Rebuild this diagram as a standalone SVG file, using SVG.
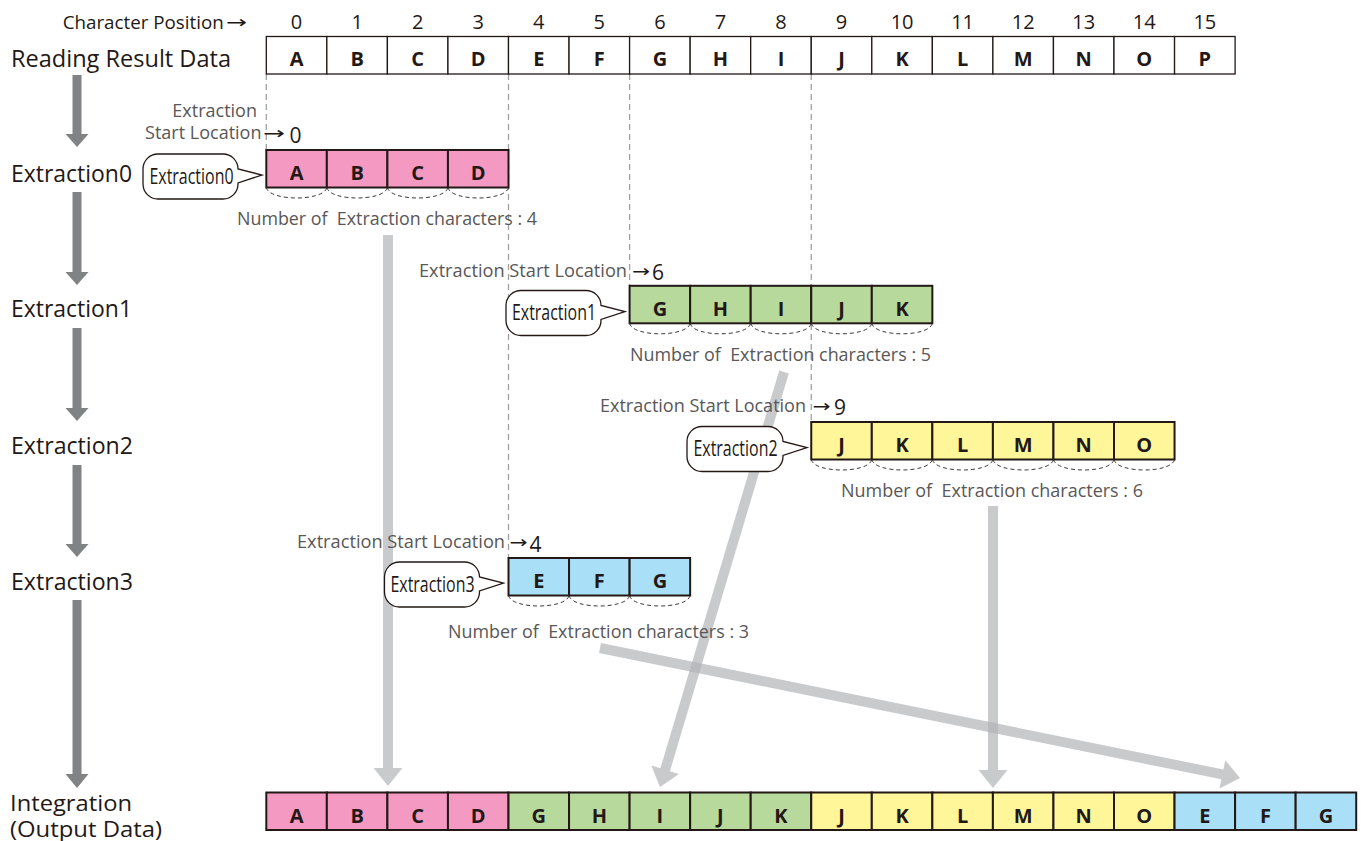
<svg xmlns="http://www.w3.org/2000/svg" width="1362" height="841" viewBox="0 0 1362 841">
<style>
text{font-family:"Open Sans","Liberation Sans",sans-serif;}
.lbl{font-size:23px;fill:#231815;}
.num{font-size:20px;fill:#231815;text-anchor:middle;}
.cl{font-size:20px;font-weight:bold;fill:#231815;text-anchor:middle;}
.gr{font-size:18px;fill:#595757;}
.dig{font-size:21px;fill:#231815;}
.arr{font-family:"DejaVu Sans",sans-serif;font-size:17px;fill:#231815;}
.co{font-size:21px;fill:#231815;text-anchor:middle;}
.top rect{fill:#fff;stroke:#231815;stroke-width:1.3;}
.cell{stroke:#231815;stroke-width:2;}
.pk{fill:#f499c1;}
.gn{fill:#b7da9c;}
.yl{fill:#fff69a;}
.bl{fill:#a9dff7;}
.guide{stroke:#9fa0a0;stroke-width:1.3;stroke-dasharray:6 4;fill:none;}
.brace{stroke:#3e3a39;stroke-width:1;stroke-dasharray:4 3;fill:none;}
.callout{fill:#fff;stroke:#231815;stroke-width:1.3;}
.darr{fill:#808285;}
.larr{fill:#b1b3b6;opacity:0.7;}
</style>

<!-- guide lines -->
<g id="guides">
<line class="guide" x1="266.3" y1="74" x2="266.3" y2="150"/>
<line class="guide" x1="508.5" y1="74" x2="508.5" y2="558"/>
<line class="guide" x1="629.6" y1="74" x2="629.6" y2="286"/>
<line class="guide" x1="811.25" y1="74" x2="811.25" y2="422"/>
</g>

<!-- connectors -->
<g id="connectors">
<polygon class="darr" points="72.5,75 81.5,75 81.5,134 88.5,134 77,147 65.5,134 72.5,134"/>
<polygon class="darr" points="72.5,192 81.5,192 81.5,272 88.5,272 77,285 65.5,272 72.5,272"/>
<polygon class="darr" points="72.5,328 81.5,328 81.5,408 88.5,408 77,421 65.5,408 72.5,408"/>
<polygon class="darr" points="72.5,465 81.5,465 81.5,544 88.5,544 77,557 65.5,544 72.5,544"/>
<polygon class="darr" points="72.5,600 81.5,600 81.5,774 88.5,774 77,788 65.5,774 72.5,774"/>
<polygon class="larr" points="383,235 393,235 393,768 402.5,768 388,786 373.5,768 383,768"/>
<polygon class="larr" points="788.8,373.4 669.9,771.2 679,773.9 660,787 651.3,765.6 660.4,768.3 779.2,370.6"/>
<polygon class="larr" points="988,506 998,506 998,770 1007.5,770 993,788 978.5,770 988,770"/>
<polygon class="larr" points="601,643.1 1223.4,769.5 1225.3,760.2 1240,778 1219.5,788.6 1221.4,779.3 599,652.9"/>
</g>

<!-- header -->
<g id="header">
<text class="gr" x="62.7" y="29" textLength="161" lengthAdjust="spacingAndGlyphs" style="font-size:19px;fill:#231815">Character Position</text>
<text class="arr" x="226" y="28" textLength="21" lengthAdjust="spacingAndGlyphs">→</text>
<text class="num" x="296.58" y="29">0</text>
<text class="num" x="357.13" y="29">1</text>
<text class="num" x="417.68" y="29">2</text>
<text class="num" x="478.23" y="29">3</text>
<text class="num" x="538.78" y="29">4</text>
<text class="num" x="599.33" y="29">5</text>
<text class="num" x="659.88" y="29">6</text>
<text class="num" x="720.43" y="29">7</text>
<text class="num" x="780.98" y="29">8</text>
<text class="num" x="841.53" y="29">9</text>
<text class="num" x="902.08" y="29">10</text>
<text class="num" x="962.63" y="29">11</text>
<text class="num" x="1023.18" y="29">12</text>
<text class="num" x="1083.73" y="29">13</text>
<text class="num" x="1144.28" y="29">14</text>
<text class="num" x="1204.83" y="29">15</text>
</g>

<!-- reading result data -->
<g id="reading">
<text class="lbl" x="11" y="66.5" textLength="220" lengthAdjust="spacingAndGlyphs">Reading Result Data</text>
<g class="top">
<rect x="266.3" y="36.5" width="60.55" height="37.5"/>
<rect x="326.85" y="36.5" width="60.55" height="37.5"/>
<rect x="387.4" y="36.5" width="60.55" height="37.5"/>
<rect x="447.95" y="36.5" width="60.55" height="37.5"/>
<rect x="508.5" y="36.5" width="60.55" height="37.5"/>
<rect x="569.05" y="36.5" width="60.55" height="37.5"/>
<rect x="629.6" y="36.5" width="60.55" height="37.5"/>
<rect x="690.15" y="36.5" width="60.55" height="37.5"/>
<rect x="750.7" y="36.5" width="60.55" height="37.5"/>
<rect x="811.25" y="36.5" width="60.55" height="37.5"/>
<rect x="871.8" y="36.5" width="60.55" height="37.5"/>
<rect x="932.35" y="36.5" width="60.55" height="37.5"/>
<rect x="992.9" y="36.5" width="60.55" height="37.5"/>
<rect x="1053.45" y="36.5" width="60.55" height="37.5"/>
<rect x="1114" y="36.5" width="60.55" height="37.5"/>
<rect x="1174.55" y="36.5" width="60.55" height="37.5"/>
</g>
<text class="cl" x="296.58" y="66">A</text>
<text class="cl" x="357.13" y="66">B</text>
<text class="cl" x="417.68" y="66">C</text>
<text class="cl" x="478.23" y="66">D</text>
<text class="cl" x="538.78" y="66">E</text>
<text class="cl" x="599.33" y="66">F</text>
<text class="cl" x="659.88" y="66">G</text>
<text class="cl" x="720.43" y="66">H</text>
<text class="cl" x="780.98" y="66">I</text>
<text class="cl" x="841.53" y="66">J</text>
<text class="cl" x="902.08" y="66">K</text>
<text class="cl" x="962.63" y="66">L</text>
<text class="cl" x="1023.18" y="66">M</text>
<text class="cl" x="1083.73" y="66">N</text>
<text class="cl" x="1144.28" y="66">O</text>
<text class="cl" x="1204.83" y="66">P</text>
</g>

<!-- Extraction0 -->
<g id="extraction0">
<text class="lbl" x="11" y="181.5" textLength="121" lengthAdjust="spacingAndGlyphs">Extraction0</text>
<text class="gr" x="257" y="116.5" text-anchor="end">Extraction</text>
<text class="gr" x="261.5" y="139.3" text-anchor="end">Start Location</text>
<text class="arr" x="263" y="139" textLength="22" lengthAdjust="spacingAndGlyphs">→</text>
<text class="dig" x="289.5" y="143">0</text>
<path class="callout" d="M158,154 H223 A15 15 0 0 1 238,169 L262,175 L238,183 V184 A15 15 0 0 1 223,199 H158 A15 15 0 0 1 143,184 V169 A15 15 0 0 1 158,154 Z"/>
<text class="co" x="191.5" y="183.5" textLength="84" lengthAdjust="spacingAndGlyphs">Extraction0</text>
<rect class="cell pk" x="266.3" y="150" width="60.55" height="37.5"/>
<rect class="cell pk" x="326.85" y="150" width="60.55" height="37.5"/>
<rect class="cell pk" x="387.4" y="150" width="60.55" height="37.5"/>
<rect class="cell pk" x="447.95" y="150" width="60.55" height="37.5"/>
<text class="cl" x="296.58" y="180">A</text>
<text class="cl" x="357.13" y="180">B</text>
<text class="cl" x="417.68" y="180">C</text>
<text class="cl" x="478.23" y="180">D</text>
<path class="brace" d="M266.3 187.5 C269.3 201.5 323.85 201.5 326.85 187.5 M326.85 187.5 C329.85 201.5 384.4 201.5 387.4 187.5 M387.4 187.5 C390.4 201.5 444.95 201.5 447.95 187.5 M447.95 187.5 C450.95 201.5 505.5 201.5 508.5 187.5"/>
<text class="gr" x="237" y="225" textLength="300" lengthAdjust="spacingAndGlyphs" xml:space="preserve">Number of  Extraction characters : 4</text>
</g>

<!-- Extraction1 -->
<g id="extraction1">
<text class="lbl" x="11" y="317" textLength="121" lengthAdjust="spacingAndGlyphs">Extraction1</text>
<text class="gr" x="419" y="276.5" textLength="208" lengthAdjust="spacingAndGlyphs">Extraction Start Location</text>
<text class="arr" x="632" y="276.5" textLength="18" lengthAdjust="spacingAndGlyphs">→</text>
<text class="dig" x="652" y="280">6</text>
<path class="callout" d="M521,290.5 H586 A15 15 0 0 1 601,305.5 L625,311.5 L601,319.5 V320.5 A15 15 0 0 1 586,335.5 H521 A15 15 0 0 1 506,320.5 V305.5 A15 15 0 0 1 521,290.5 Z"/>
<text class="co" x="554" y="320" textLength="84" lengthAdjust="spacingAndGlyphs">Extraction1</text>
<rect class="cell gn" x="629.6" y="285.8" width="60.55" height="37.5"/>
<rect class="cell gn" x="690.15" y="285.8" width="60.55" height="37.5"/>
<rect class="cell gn" x="750.7" y="285.8" width="60.55" height="37.5"/>
<rect class="cell gn" x="811.25" y="285.8" width="60.55" height="37.5"/>
<rect class="cell gn" x="871.8" y="285.8" width="60.55" height="37.5"/>
<text class="cl" x="659.88" y="316">G</text>
<text class="cl" x="720.43" y="316">H</text>
<text class="cl" x="780.98" y="316">I</text>
<text class="cl" x="841.53" y="316">J</text>
<text class="cl" x="902.08" y="316">K</text>
<path class="brace" d="M629.6 323.3 C632.6 337.3 687.15 337.3 690.15 323.3 M690.15 323.3 C693.15 337.3 747.7 337.3 750.7 323.3 M750.7 323.3 C753.7 337.3 808.25 337.3 811.25 323.3 M811.25 323.3 C814.25 337.3 868.8 337.3 871.8 323.3 M871.8 323.3 C874.8 337.3 929.35 337.3 932.35 323.3"/>
<text class="gr" x="630" y="361" textLength="301" lengthAdjust="spacingAndGlyphs" xml:space="preserve">Number of  Extraction characters : 5</text>
</g>

<!-- Extraction2 -->
<g id="extraction2">
<text class="lbl" x="11" y="453.5" textLength="122" lengthAdjust="spacingAndGlyphs">Extraction2</text>
<text class="gr" x="600" y="411.7" textLength="206" lengthAdjust="spacingAndGlyphs">Extraction Start Location</text>
<text class="arr" x="812.5" y="411.5" textLength="18" lengthAdjust="spacingAndGlyphs">→</text>
<text class="dig" x="834" y="415">9</text>
<path class="callout" d="M702,426.5 H768 A15 15 0 0 1 783,441.5 L807,447.5 L783,455.5 V456.5 A15 15 0 0 1 768,471.5 H702 A15 15 0 0 1 687,456.5 V441.5 A15 15 0 0 1 702,426.5 Z"/>
<text class="co" x="735.5" y="456" textLength="84" lengthAdjust="spacingAndGlyphs">Extraction2</text>
<rect class="cell yl" x="811.25" y="422" width="60.55" height="37.5"/>
<rect class="cell yl" x="871.8" y="422" width="60.55" height="37.5"/>
<rect class="cell yl" x="932.35" y="422" width="60.55" height="37.5"/>
<rect class="cell yl" x="992.9" y="422" width="60.55" height="37.5"/>
<rect class="cell yl" x="1053.45" y="422" width="60.55" height="37.5"/>
<rect class="cell yl" x="1114" y="422" width="60.55" height="37.5"/>
<text class="cl" x="841.53" y="452">J</text>
<text class="cl" x="902.08" y="452">K</text>
<text class="cl" x="962.63" y="452">L</text>
<text class="cl" x="1023.18" y="452">M</text>
<text class="cl" x="1083.73" y="452">N</text>
<text class="cl" x="1144.28" y="452">O</text>
<path class="brace" d="M811.25 459.5 C814.25 473.5 868.8 473.5 871.8 459.5 M871.8 459.5 C874.8 473.5 929.35 473.5 932.35 459.5 M932.35 459.5 C935.35 473.5 989.9 473.5 992.9 459.5 M992.9 459.5 C995.9 473.5 1050.45 473.5 1053.45 459.5 M1053.45 459.5 C1056.45 473.5 1111 473.5 1114 459.5 M1114 459.5 C1117 473.5 1171.55 473.5 1174.55 459.5"/>
<text class="gr" x="841" y="497.3" textLength="302" lengthAdjust="spacingAndGlyphs" xml:space="preserve">Number of  Extraction characters : 6</text>
</g>

<!-- Extraction3 -->
<g id="extraction3">
<text class="lbl" x="11" y="589.5" textLength="122" lengthAdjust="spacingAndGlyphs">Extraction3</text>
<text class="gr" x="297" y="548.3" textLength="208" lengthAdjust="spacingAndGlyphs">Extraction Start Location</text>
<text class="arr" x="509.5" y="548" textLength="18" lengthAdjust="spacingAndGlyphs">→</text>
<text class="dig" x="529.5" y="551.5">4</text>
<path class="callout" d="M399.5,562 H464.5 A15 15 0 0 1 479.5,577 L503.5,583 L479.5,591 V592 A15 15 0 0 1 464.5,607 H399.5 A15 15 0 0 1 384.5,592 V577 A15 15 0 0 1 399.5,562 Z"/>
<text class="co" x="432.5" y="591.5" textLength="84" lengthAdjust="spacingAndGlyphs">Extraction3</text>
<rect class="cell bl" x="508.5" y="558" width="60.55" height="37.5"/>
<rect class="cell bl" x="569.05" y="558" width="60.55" height="37.5"/>
<rect class="cell bl" x="629.6" y="558" width="60.55" height="37.5"/>
<text class="cl" x="538.78" y="588">E</text>
<text class="cl" x="599.33" y="588">F</text>
<text class="cl" x="659.88" y="588">G</text>
<path class="brace" d="M508.5 595.5 C511.5 609.5 566.05 609.5 569.05 595.5 M569.05 595.5 C572.05 609.5 626.6 609.5 629.6 595.5 M629.6 595.5 C632.6 609.5 687.15 609.5 690.15 595.5"/>
<text class="gr" x="448" y="638.3" textLength="301" lengthAdjust="spacingAndGlyphs" xml:space="preserve">Number of  Extraction characters : 3</text>
</g>

<!-- Integration -->
<g id="integration">
<text class="lbl" x="10" y="810.5" textLength="122" lengthAdjust="spacingAndGlyphs" style="font-size:22px">Integration</text>
<text class="lbl" x="10" y="836.5" textLength="152" lengthAdjust="spacingAndGlyphs" style="font-size:22px">(Output Data)</text>
<rect class="cell pk" x="266.3" y="792.5" width="60.55" height="37.5"/>
<rect class="cell pk" x="326.85" y="792.5" width="60.55" height="37.5"/>
<rect class="cell pk" x="387.4" y="792.5" width="60.55" height="37.5"/>
<rect class="cell pk" x="447.95" y="792.5" width="60.55" height="37.5"/>
<rect class="cell gn" x="508.5" y="792.5" width="60.55" height="37.5"/>
<rect class="cell gn" x="569.05" y="792.5" width="60.55" height="37.5"/>
<rect class="cell gn" x="629.6" y="792.5" width="60.55" height="37.5"/>
<rect class="cell gn" x="690.15" y="792.5" width="60.55" height="37.5"/>
<rect class="cell gn" x="750.7" y="792.5" width="60.55" height="37.5"/>
<rect class="cell yl" x="811.25" y="792.5" width="60.55" height="37.5"/>
<rect class="cell yl" x="871.8" y="792.5" width="60.55" height="37.5"/>
<rect class="cell yl" x="932.35" y="792.5" width="60.55" height="37.5"/>
<rect class="cell yl" x="992.9" y="792.5" width="60.55" height="37.5"/>
<rect class="cell yl" x="1053.45" y="792.5" width="60.55" height="37.5"/>
<rect class="cell yl" x="1114" y="792.5" width="60.55" height="37.5"/>
<rect class="cell bl" x="1174.55" y="792.5" width="60.55" height="37.5"/>
<rect class="cell bl" x="1235.1" y="792.5" width="60.55" height="37.5"/>
<rect class="cell bl" x="1295.65" y="792.5" width="60.55" height="37.5"/>
<text class="cl" x="296.58" y="822.5">A</text>
<text class="cl" x="357.13" y="822.5">B</text>
<text class="cl" x="417.68" y="822.5">C</text>
<text class="cl" x="478.23" y="822.5">D</text>
<text class="cl" x="538.78" y="822.5">G</text>
<text class="cl" x="599.33" y="822.5">H</text>
<text class="cl" x="659.88" y="822.5">I</text>
<text class="cl" x="720.43" y="822.5">J</text>
<text class="cl" x="780.98" y="822.5">K</text>
<text class="cl" x="841.53" y="822.5">J</text>
<text class="cl" x="902.08" y="822.5">K</text>
<text class="cl" x="962.63" y="822.5">L</text>
<text class="cl" x="1023.18" y="822.5">M</text>
<text class="cl" x="1083.73" y="822.5">N</text>
<text class="cl" x="1144.28" y="822.5">O</text>
<text class="cl" x="1204.83" y="822.5">E</text>
<text class="cl" x="1265.38" y="822.5">F</text>
<text class="cl" x="1325.93" y="822.5">G</text>
</g>
</svg>
